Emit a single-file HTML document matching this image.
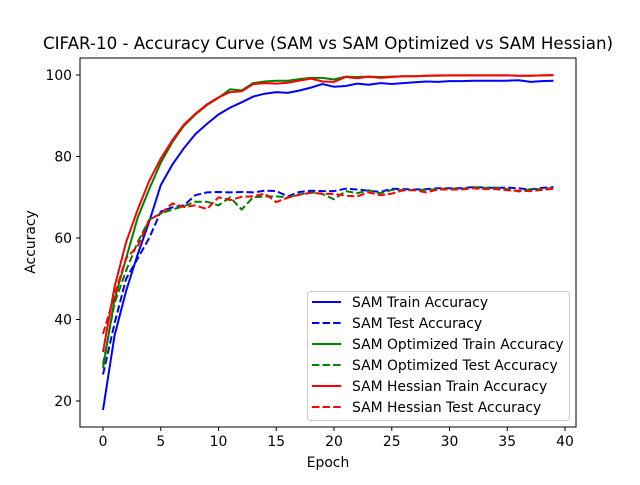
<!DOCTYPE html>
<html><head><meta charset="utf-8"><style>
body{margin:0;background:#fff}
svg text{font-family:"DejaVu Sans","Liberation Sans",sans-serif;fill:#000}
</style></head><body>
<svg id="chart" width="640" height="480" xmlns="http://www.w3.org/2000/svg">
<rect width="640" height="480" fill="#fff"/>
<text x="328" y="49" font-size="16.7" text-anchor="middle">CIFAR-10 - Accuracy Curve (SAM vs SAM Optimized vs SAM Hessian)</text>
<g id="plot"></g>
<rect x="80" y="58" width="496" height="369" fill="none" stroke="#000" stroke-width="1"/>
<text x="328" y="467" font-size="13.9" text-anchor="middle">Epoch</text>
<text transform="translate(35,242) rotate(-90)" font-size="13.9" text-anchor="middle">Accuracy</text>
<g id="legend"></g>
</svg>
<script>
const epochs=[...Array(40).keys()];
const xTicks=[0,5,10,15,20,25,30,35,40];
const yTicks=[20,40,60,80,100];
const samTrain=[17.8,36,47,56,64,73,78,82,85.5,88,90.3,92,93.3,94.7,95.4,95.8,95.6,96.2,96.9,97.8,97.1,97.3,97.9,97.6,98.0,97.8,98.0,98.2,98.4,98.3,98.5,98.5,98.6,98.6,98.6,98.6,98.7,98.3,98.5,98.6];
const samTest=[26.5,39,50,55,60,66.5,67.5,68,70.5,71.2,71.3,71.2,71.3,71.2,71.6,71.5,70.2,71.3,71.6,71.5,71.5,72.1,71.9,71.6,71.3,72.1,72,71.9,72,72.2,72.2,72.2,72.5,72.4,72.3,72.4,72.2,71.9,72.3,72.5];
const optTrain=[28,45,55,65,72,78.5,83.5,87.5,90.3,92.6,94.4,96.5,96.2,98,98.4,98.6,98.6,99,99.3,99.3,98.9,99.6,99.5,99.6,99.5,99.6,99.7,99.7,99.8,99.8,99.9,99.9,99.9,99.9,99.9,99.9,99.8,99.8,99.9,99.9];
const optTest=[29,44,52,59,64.5,66,67,67.8,68.9,68.9,68,70,67,70,70.2,70.2,70,70.7,71.2,70.8,69.5,71.5,71,71.7,71,71.8,71.7,71.8,71.8,72,72.2,72,72.5,72.3,72.4,72,71.4,72,72,72.3];
const hesTrain=[32,48,59,67,74,79.5,84,87.8,90.5,92.8,94.5,95.8,96,97.8,98,97.9,98.1,98.6,99.1,98.4,98.3,99.5,99.2,99.6,99.3,99.5,99.7,99.7,99.8,99.9,99.9,99.9,99.9,99.9,99.9,99.9,99.8,99.8,99.9,100];
const hesTest=[36.5,46,55,58,64.5,66,68.5,67.6,68,67.1,70,69.3,70.1,70.2,70.9,68.8,69.9,70.6,71.1,70.9,70.8,70.4,70.2,71.2,70.5,70.9,71.7,71.7,71.2,71.9,71.9,71.9,72.2,72,72,71.7,71.6,71.5,71.8,72.1];
const seriesNames=["SAM Train Accuracy","SAM Test Accuracy","SAM Optimized Train Accuracy","SAM Optimized Test Accuracy","SAM Hessian Train Accuracy","SAM Hessian Test Accuracy"];
const seriesData=[samTrain,samTest,optTrain,optTest,hesTrain,hesTest];
const colors=["#0000ff","#0000ff","#008000","#008000","#ff0000","#ff0000"];
const dashed=[false,true,false,true,false,true];
const NS="http://www.w3.org/2000/svg";
function xs(v){return 103+(v-0)*(565-103)/40;}
function ys(v){return 401-(v-20)*(401-75)/80;}
const plot=document.getElementById('plot');
function mk(t,a,p){const e=document.createElementNS(NS,t);for(const k in a)e.setAttribute(k,a[k]);p.appendChild(e);return e;}
xTicks.forEach(t=>{
 const l=mk('line',{x1:xs(t),x2:xs(t),y1:427,y2:431,stroke:'#000'},plot);
 
 
 const tx=mk('text',{x:xs(t),y:446,'font-size':13.9,'text-anchor':'middle'},plot);tx.textContent=t;
 
 
});
yTicks.forEach(t=>{
 const l=mk('line',{x1:76,x2:80,y1:ys(t),y2:ys(t),stroke:'#000'},plot);
 
 
 const tx=mk('text',{x:72,y:ys(t)+5,'font-size':13.9,'text-anchor':'end'},plot);tx.textContent=t;
 
 
});
seriesData.forEach((d,i)=>{
 const pts=d.map((v,j)=>xs(epochs[j]).toFixed(1)+','+ys(v).toFixed(1)).join(' ');
 const p=mk('polyline',{points:pts,fill:'none',stroke:colors[i],'stroke-width':2,'stroke-dasharray':dashed[i]?'7.4,3.2':'none'},plot);
 
 
});
const lg=document.getElementById('legend');
const box=mk('rect',{x:307.5,y:291.5,width:262,height:129,rx:3,fill:'#fff','fill-opacity':0.8,stroke:'#ccc'},lg);


seriesNames.forEach((n,i)=>{
 const y=302+i*21;
 const l=mk('line',{x1:312,x2:341,y1:y,y2:y,stroke:colors[i],'stroke-width':2,'stroke-dasharray':dashed[i]?'7.4,3.2':'none'},lg);
 
 
 const t=mk('text',{x:352,y:y+5,'font-size':13.9},lg);t.textContent=n;
 
 
});
</script>
</body></html>
